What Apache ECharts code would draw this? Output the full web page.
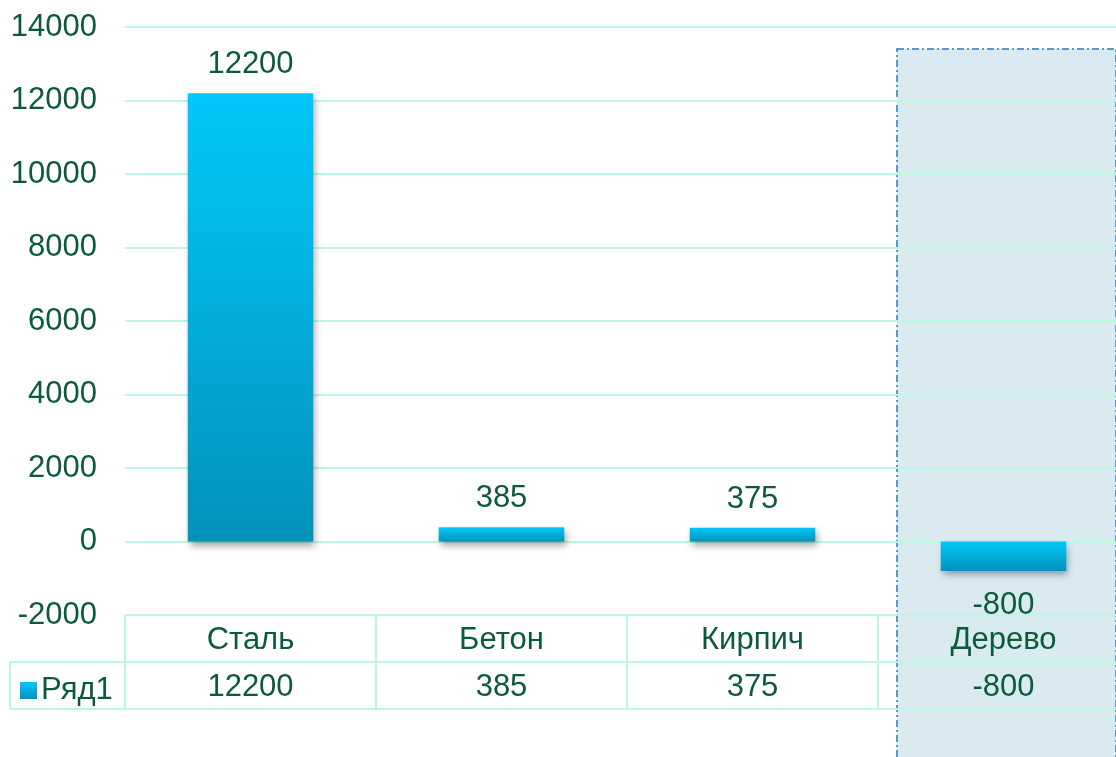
<!DOCTYPE html>
<html>
<head>
<meta charset="utf-8">
<script src="https://cdn.jsdelivr.net/npm/echarts@6/dist/echarts.min.js"></script>
<style>
  html, body { margin: 0; padding: 0; background: #fff; }
  #main { width: 1116px; height: 757px; }
</style>
</head>
<body>
<div id="main"></div>
<script>
var categories = ['Сталь', 'Бетон', 'Кирпич', 'Дерево'];
var values = [12200, 385, 375, -800];
var seriesName = 'Ряд1';
var yTicks = [-2000, 0, 2000, 4000, 6000, 8000, 10000, 12000, 14000];

var textColor = '#0c5a3c';
var lineColor = '#bdf7e2';
var fontFam = 'Arial, "Liberation Sans", sans-serif';

var myChart = echarts.init(document.getElementById('main'));

var barColor = new echarts.graphic.LinearGradient(0, 0, 0, 1, [
    { offset: 0, color: '#00c8fa' },
    { offset: 1, color: '#0392bb' }
]);

var option = {
    backgroundColor: '#fff',
    animation: false,
    textStyle: { fontFamily: fontFam },
    grid: {
        left: 125,
        top: 27,
        width: 1004,
        height: 588,
        outerBoundsMode: 'none'
    },
    legend: {
        left: 15,
        top: 670,
        itemWidth: 17,
        itemHeight: 17,
        itemGap: 4,
        icon: 'rect',
        textStyle: { color: textColor, fontSize: 31, fontFamily: fontFam, padding: [0, 0, 0, -1] },
        data: [seriesName]
    },
    xAxis: [{
        type: 'category',
        data: categories,
        position: 'bottom',
        axisLine: { show: false, onZero: false },
        axisTick: {
            show: true,
            length: 93,
            lineStyle: { color: lineColor, width: 2 }
        },
        axisLabel: {
            color: textColor,
            fontSize: 31,
            fontFamily: fontFam,
            margin: 10
        }
    }, {
        // строка значений таблицы данных
        type: 'category',
        data: values.map(function (v) { return String(v); }),
        position: 'bottom',
        offset: 47,
        axisLine: { show: false, onZero: false },
        axisTick: { show: false },
        axisLabel: {
            color: textColor,
            fontSize: 31,
            fontFamily: fontFam,
            margin: 10
        }
    }],
    yAxis: [{
        type: 'value',
        min: yTicks[0],
        max: yTicks[yTicks.length - 1],
        interval: 2000,
        axisLine: { show: false },
        axisTick: { show: false },
        axisLabel: {
            color: textColor,
            fontSize: 31,
            fontFamily: fontFam,
            margin: 28,
            formatter: function (v) { return String(v); }
        },
        splitLine: {
            show: true,
            lineStyle: { color: lineColor, width: 2 }
        }
    }],
    series: [{
        name: seriesName,
        type: 'bar',
        barWidth: '50%',
        z: 3,
        data: values.map(function (v) {
            return {
                value: v,
                label: v < 0 ? { position: 'bottom', distance: 19 } : { position: 'top' }
            };
        }),
        label: {
            show: true,
            distance: 13,
            color: textColor,
            fontSize: 31,
            fontFamily: fontFam
        },
        itemStyle: {
            color: barColor,
            shadowColor: 'rgba(0,0,0,0.35)',
            shadowBlur: 7,
            shadowOffsetX: 2,
            shadowOffsetY: 4
        }
    }]
};
myChart.setOption(option);

// линии таблицы данных и рамка выделения
var yBottom = myChart.convertToPixel({ yAxisIndex: 0 }, yTicks[0]);
var xLast = myChart.convertToPixel({ xAxisIndex: 0 }, categories.length - 1);
var xPrev = myChart.convertToPixel({ xAxisIndex: 0 }, categories.length - 2);
var band = xLast - xPrev;
var row = 47;

myChart.setOption({
    graphic: [{
        type: 'rect',
        z: -10,
        shape: { x: xLast - band / 2 + 19, y: 49, width: band - 32, height: 720 },
        style: {
            fill: '#d9ebf1',
            stroke: '#2e78b8',
            lineWidth: 1.5,
            lineDash: [7, 3, 2, 3]
        }
    }, {
        type: 'line',
        z: 0,
        shape: { x1: 10, y1: yBottom + row, x2: 1116, y2: yBottom + row },
        style: { stroke: lineColor, lineWidth: 2 }
    }, {
        type: 'line',
        z: 0,
        shape: { x1: 10, y1: yBottom + row * 2, x2: 1116, y2: yBottom + row * 2 },
        style: { stroke: lineColor, lineWidth: 2 }
    }, {
        type: 'line',
        z: 0,
        shape: { x1: 10, y1: yBottom + row, x2: 10, y2: yBottom + row * 2 },
        style: { stroke: lineColor, lineWidth: 2 }
    }]
});

window.addEventListener('resize', function () {
    myChart.resize();
});
</script>
</body>
</html>
